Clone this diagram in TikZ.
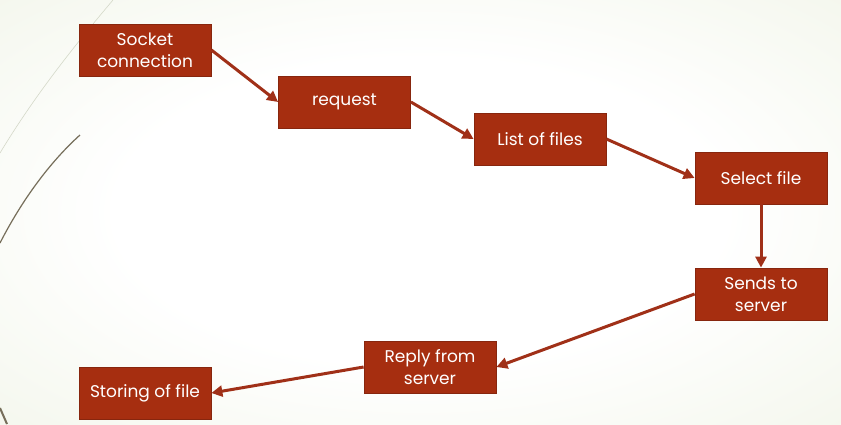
\documentclass[tikz,border=0pt]{standalone}
\usepackage{fontspec}
\setmainfont{Poppins}
\usetikzlibrary{arrows.meta}
\definecolor{boxred}{RGB}{166,46,16}
\definecolor{boxedge}{RGB}{135,38,14}
\definecolor{linkred}{RGB}{160,48,24}
\definecolor{bgout}{RGB}{224,232,204}
\definecolor{wispdark}{RGB}{118,110,90}
\definecolor{wisplight}{RGB}{212,216,200}
\pgfdeclareradialshading{wisp}{\pgfpoint{0bp}{0bp}}{color(0bp)=(white); color(18bp)=(white); color(70bp)=(bgout)}
\begin{document}
\begin{tikzpicture}[x=1pt,y=-1pt,
  box/.style={draw=boxedge, fill=boxred, text=white, line width=0.8pt,
    minimum width=132pt, minimum height=52pt, inner sep=0pt, align=center,
    font=\fontsize{17}{22}\selectfont},
  link/.style={draw=linkred, line width=3pt, -{Triangle[length=11pt,width=11pt]}}]
\useasboundingbox (0,0) rectangle (841,424);
\shade[shading=wisp] (0,0) rectangle (841,424);
%
\draw[wisplight, line width=0.6pt] (113,0) .. controls (75,45) and (35,95) .. (0,153);
\draw[wispdark, line width=1.2pt] (80,135) .. controls (50,162) and (22,200) .. (0,243);
\draw[wispdark, line width=2pt] (0,408) -- (7,424);
%
\node[box] (sock)  at (145,50)  {Socket\\connection};
\node[box] (req)   at (344.5,102) {request};
\node[box] (list)  at (540,139) {List of files};
\node[box] (sel)   at (761,178) {Select file};
\node[box] (send)  at (761,294) {Sends to\\server};
\node[box] (reply) at (430,367) {Reply from\\server};
\node[box] (store) at (145,393) {Storing of file};
%
\draw[link] (sock.east) -- (req.west);
\draw[link] (req.east) -- (list.west);
\draw[link] (list.east) -- (sel.west);
\draw[link] (sel.south) -- (send.north);
\draw[link] (send.west) -- (reply.east);
\draw[link] (reply.west) -- (store.east);
%
\end{tikzpicture}
\end{document}
